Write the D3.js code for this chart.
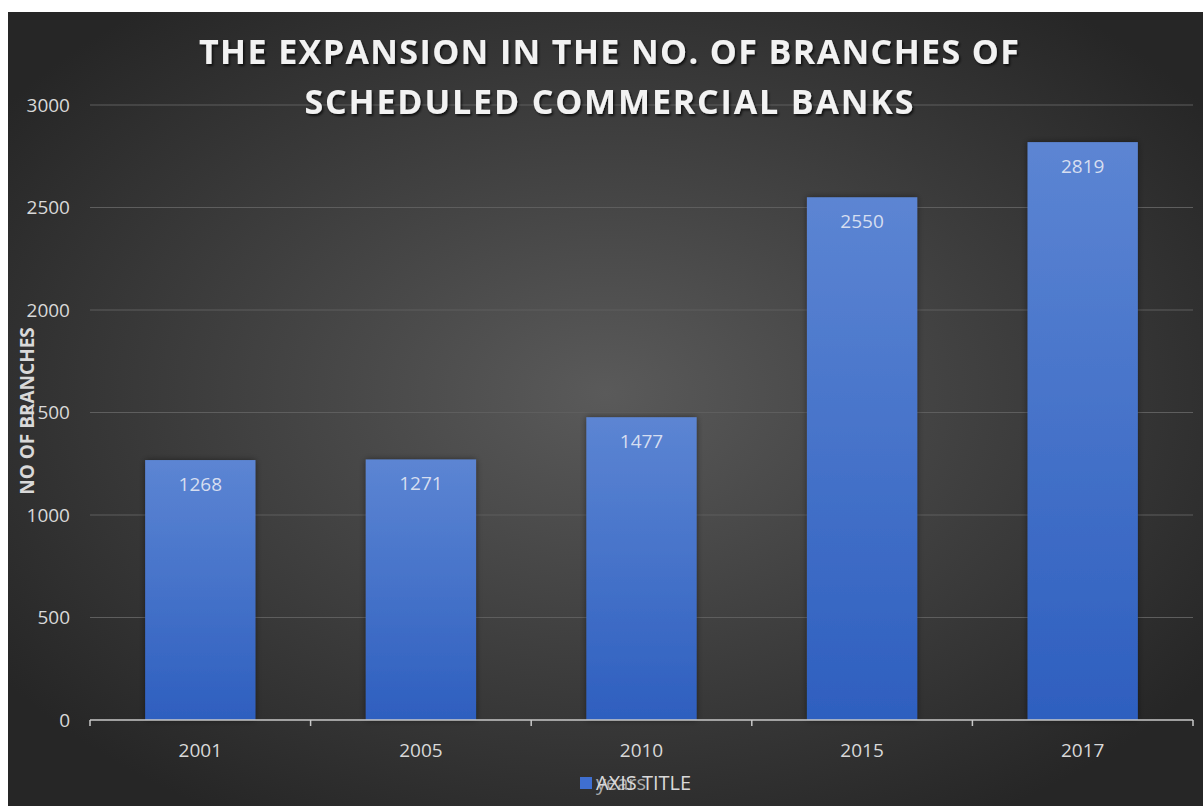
<!DOCTYPE html>
<html>
<head>
<meta charset="utf-8">
<title>Branches of Scheduled Commercial Banks</title>
<script src="https://d3js.org/d3.v7.min.js"></script>
<style>
  html, body { margin: 0; padding: 0; background: #fff; }
  svg { display: block; }
</style>
</head>
<body>
<div id="chart"></div>
<script>
// data
var years = ["2001", "2005", "2010", "2015", "2017"];
var branches = [1268, 1271, 1477, 2550, 2819];
var yTicks = [0, 500, 1000, 1500, 2000, 2500, 3000];
var titleLines = ["THE EXPANSION IN THE NO. OF BRANCHES OF", "SCHEDULED COMMERCIAL BANKS"];
var titleWidths = [820, 609];

var W = 1203, H = 806;
var margin = {top: 105, right: 10, bottom: 86, left: 90};
var font = "'Open Sans', sans-serif";

var svg = d3.select("#chart").append("svg")
    .attr("width", W)
    .attr("height", H);

var defs = svg.append("defs");

// background gradient
var bg = defs.append("radialGradient")
    .attr("id", "bg")
    .attr("cx", "50%").attr("cy", "48%").attr("r", "62%");
bg.append("stop").attr("offset", "0%").attr("stop-color", "#5a5a5a");
bg.append("stop").attr("offset", "100%").attr("stop-color", "#262626");

// bar gradient
var bar = defs.append("linearGradient")
    .attr("id", "barFill")
    .attr("x1", 0).attr("y1", 0).attr("x2", 0).attr("y2", 1);
bar.append("stop").attr("offset", "0%").attr("stop-color", "#5c85d3");
bar.append("stop").attr("offset", "100%").attr("stop-color", "#2e5fbf");

var shadow = defs.append("filter").attr("id", "shadow")
    .attr("x", "-20%").attr("y", "-20%").attr("width", "140%").attr("height", "140%");
shadow.append("feDropShadow")
    .attr("dx", 0).attr("dy", 0).attr("stdDeviation", 3)
    .attr("flood-color", "#000").attr("flood-opacity", 0.45);

var tshadow = defs.append("filter").attr("id", "tshadow");
tshadow.append("feDropShadow")
    .attr("dx", 1.5).attr("dy", 2).attr("stdDeviation", 1.2)
    .attr("flood-color", "#000").attr("flood-opacity", 0.7);

svg.append("rect")
    .attr("x", 8).attr("y", 12)
    .attr("width", W - 8).attr("height", H - 12)
    .attr("fill", "url(#bg)");

var x = d3.scaleBand()
    .domain(years)
    .range([margin.left, W - margin.right])
    .paddingInner(0.5)
    .paddingOuter(0.25);

var y = d3.scaleLinear()
    .domain([0, 3000])
    .range([H - margin.bottom, margin.top]);

// gridlines
svg.append("g")
    .selectAll("line")
    .data(yTicks.slice(1))
    .join("line")
    .attr("x1", margin.left)
    .attr("x2", W - margin.right)
    .attr("y1", function(d) { return y(d); })
    .attr("y2", function(d) { return y(d); })
    .attr("stroke", "#5e5e5e")
    .attr("stroke-width", 1.2);

// y labels
svg.append("g")
    .selectAll("text")
    .data(yTicks)
    .join("text")
    .attr("x", 70)
    .attr("y", function(d) { return y(d); })
    .attr("dy", "0.36em")
    .attr("text-anchor", "end")
    .attr("fill", "#d9d9d9")
    .style("font-family", font)
    .style("font-size", "19px")
    .text(function(d) { return d; });

// bars
svg.append("g")
    .selectAll("rect")
    .data(branches)
    .join("rect")
    .attr("x", function(d, i) { return x(years[i]); })
    .attr("y", function(d) { return y(d); })
    .attr("width", x.bandwidth())
    .attr("height", function(d) { return y(0) - y(d); })
    .attr("fill", "url(#barFill)")
    .attr("filter", "url(#shadow)");

// data labels
svg.append("g")
    .selectAll("text")
    .data(branches)
    .join("text")
    .attr("x", function(d, i) { return x(years[i]) + x.bandwidth() / 2; })
    .attr("y", function(d) { return y(d) + 31; })
    .attr("text-anchor", "middle")
    .attr("fill", "#d6def0")
    .style("font-family", font)
    .style("font-size", "19px")
    .text(function(d) { return d; });

// x axis
var xAxis = svg.append("g")
    .attr("transform", "translate(0," + y(0) + ")");
xAxis.append("line")
    .attr("x1", margin.left).attr("x2", W - margin.right)
    .attr("stroke", "#c8c8c8").attr("stroke-width", 1.5);
var edges = d3.range(years.length + 1).map(function(i) { return margin.left + i * (W - margin.right - margin.left) / years.length; });
xAxis.selectAll(".tick")
    .data(edges)
    .join("line")
    .attr("x1", function(d) { return d; }).attr("x2", function(d) { return d; })
    .attr("y1", 0).attr("y2", 6)
    .attr("stroke", "#c8c8c8").attr("stroke-width", 1.5);
xAxis.selectAll("text")
    .data(years)
    .join("text")
    .attr("x", function(d) { return x(d) + x.bandwidth() / 2; })
    .attr("y", 37)
    .attr("text-anchor", "middle")
    .attr("fill", "#d9d9d9")
    .style("font-family", font)
    .style("font-size", "19px")
    .text(function(d) { return d; });

// title
svg.append("g")
    .selectAll("text")
    .data(titleLines)
    .join("text")
    .attr("x", 609)
    .attr("y", function(d, i) { return 64 + i * 50; })
    .attr("text-anchor", "middle")
    .attr("textLength", function(d, i) { return titleWidths[i]; })
    .attr("lengthAdjust", "spacing")
    .attr("fill", "#f2f2f2")
    .attr("filter", "url(#tshadow)")
    .style("font-family", font)
    .style("font-weight", "bold")
    .style("font-size", "34px")
    .text(function(d) { return d; });

// y axis title
svg.append("text")
    .attr("transform", "translate(34,411) rotate(-90)")
    .attr("text-anchor", "middle")
    .attr("fill", "#d9d9d9")
    .style("font-family", font)
    .style("font-weight", "bold")
    .style("font-size", "19px")
    .text("NO OF BRANCHES");

// legend + overlapping x axis title, as in the original
svg.append("rect")
    .attr("x", 580).attr("y", 777)
    .attr("width", 12).attr("height", 12)
    .attr("fill", "#3f6fd0");
svg.append("text")
    .attr("x", 596).attr("y", 790)
    .attr("fill", "#a8a8a8")
    .style("font-family", font)
    .style("font-size", "20px")
    .text("years");
svg.append("text")
    .attr("x", 596).attr("y", 790)
    .attr("fill", "#d9d9d9")
    .style("font-family", font)
    .style("font-size", "20px")
    .text("AXIS TITLE");
</script>
</body>
</html>
